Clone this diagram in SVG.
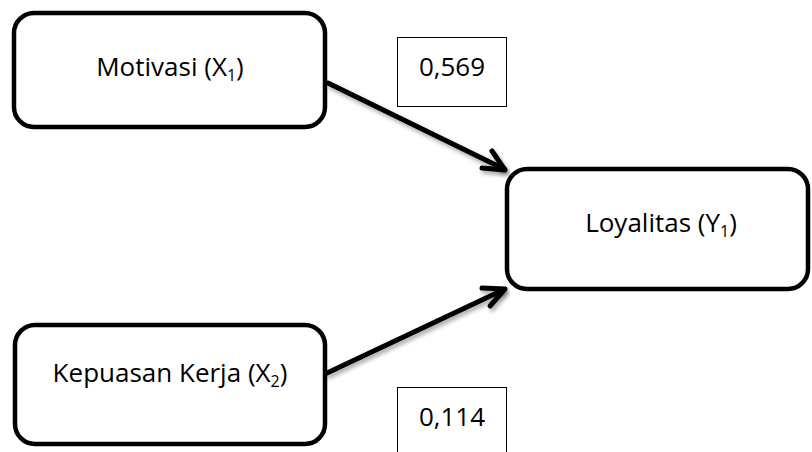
<svg xmlns="http://www.w3.org/2000/svg" width="812" height="452" viewBox="0 0 812 452">
  <defs>
    <filter id="soft-shadow" x="-10%" y="-20%" width="130%" height="160%">
      <feDropShadow dx="2" dy="3" stdDeviation="2" flood-color="#000" flood-opacity="0.35"/>
    </filter>
  </defs>
  <style>
    .node { fill: #fff; stroke: #000; stroke-width: 4.5; }
    .coef { fill: #fff; stroke: #000; stroke-width: 1; }
    .label { font-family: "Open Sans", "Liberation Sans", sans-serif; font-size: 26px; fill: #000; text-anchor: middle; }
    .sub { font-size: 16px; }
    .edge { fill: none; stroke: #000; stroke-width: 5; stroke-linecap: round; stroke-linejoin: round; filter: url(#soft-shadow); }
  </style>
  <rect width="812" height="452" fill="#fff"/>

  <!-- connectors -->
  <g id="connectors">
    <path class="edge" d="M328,83 L504,169"/>
    <path class="edge" d="M492,151 L505,170 L482,168"/>
    <path class="edge" d="M327,373 L503,290"/>
    <path class="edge" d="M482,288 L505,289 L490,306"/>
  </g>

  <g id="node-motivasi">
    <rect class="node" x="14" y="13" width="311" height="114" rx="20"/>
    <text class="label" x="170" y="76">Motivasi (X<tspan class="sub" dy="5">1</tspan><tspan dy="-5">)</tspan></text>
  </g>

  <g id="node-kepuasan">
    <rect class="node" x="15" y="325" width="310" height="119" rx="20"/>
    <text class="label" x="170" y="382">Kepuasan Kerja (X<tspan class="sub" dy="5">2</tspan><tspan dy="-5">)</tspan></text>
  </g>

  <g id="node-loyalitas">
    <rect class="node" x="507" y="169" width="301" height="120" rx="20"/>
    <text class="label" x="661" y="232">Loyalitas (Y<tspan class="sub" dy="5">1</tspan><tspan dy="-5">)</tspan></text>
  </g>

  <g id="coef-x1">
    <rect class="coef" x="397.5" y="37.5" width="109" height="69"/>
    <text class="label" x="452" y="76">0,569</text>
  </g>

  <g id="coef-x2">
    <rect class="coef" x="397.5" y="387.5" width="109" height="70"/>
    <text class="label" x="452" y="426">0,114</text>
  </g>
</svg>
